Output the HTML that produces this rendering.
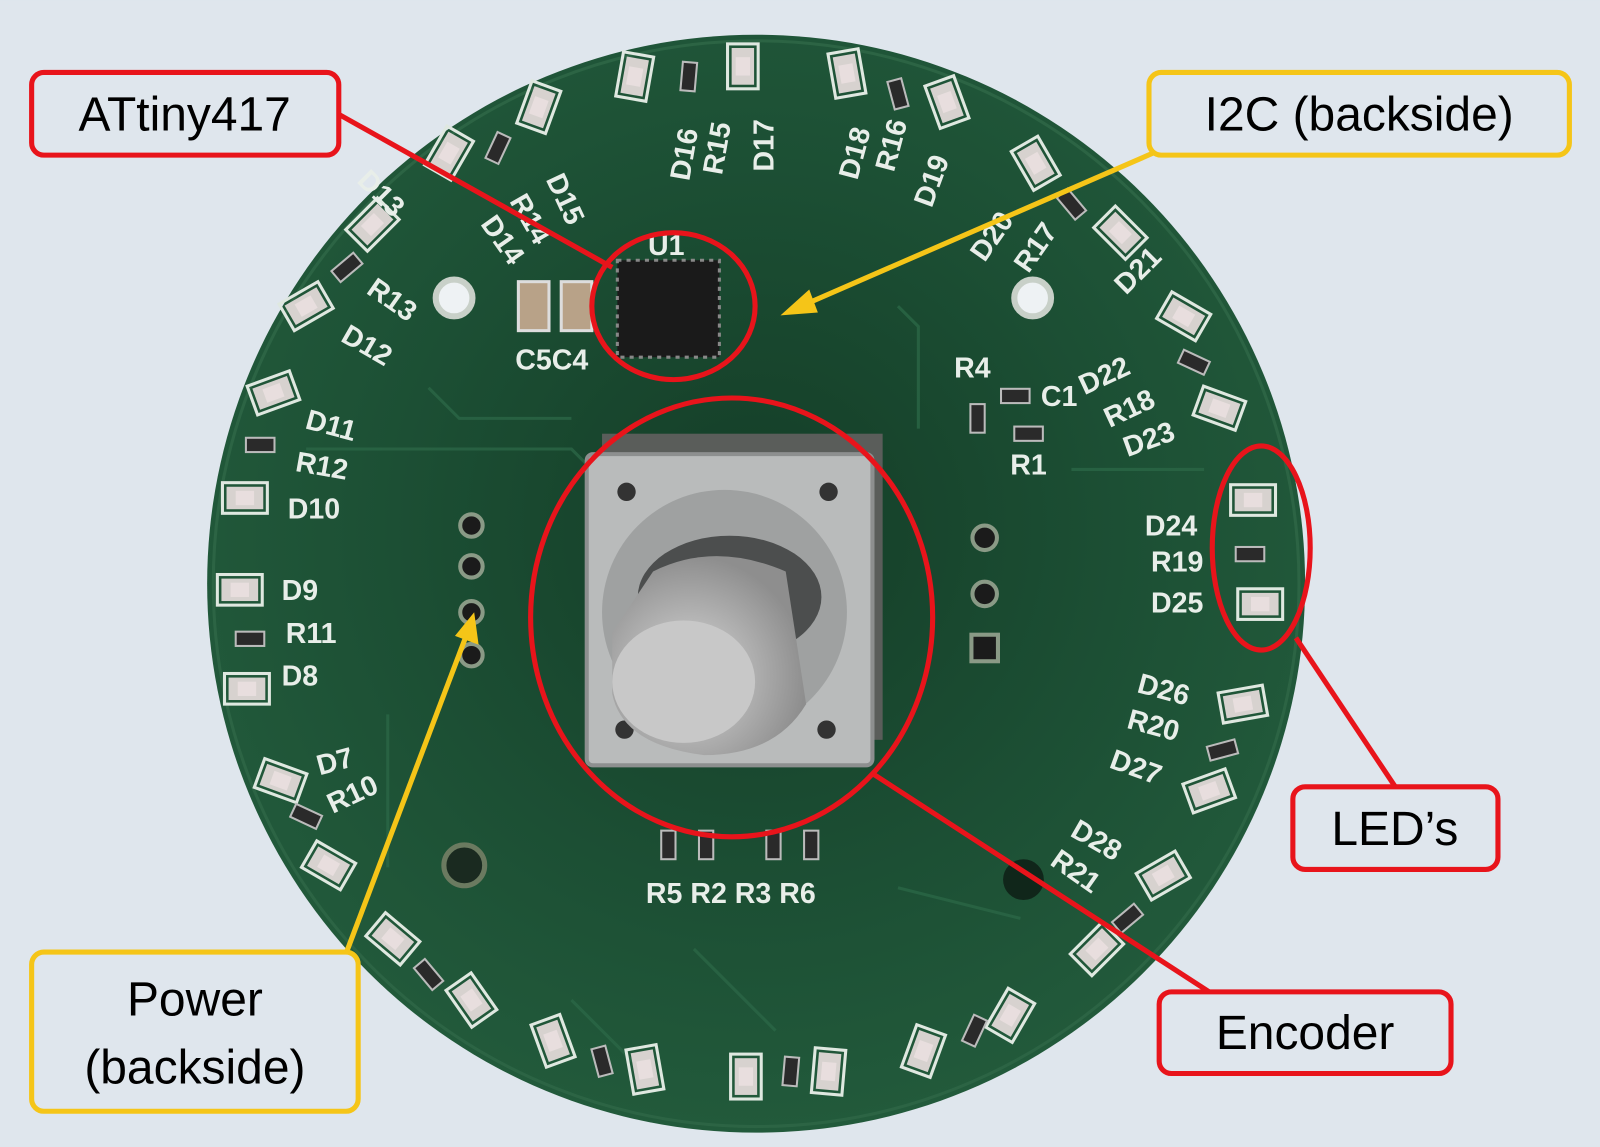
<!DOCTYPE html>
<html><head><meta charset="utf-8"><style>
html,body{margin:0;padding:0;background:#dfe6ed;}
svg{display:block}
.lbl{font-family:"Liberation Sans",sans-serif;font-size:47px;fill:#000;}
.s{font-family:"Liberation Sans",sans-serif;font-size:28px;font-weight:bold;fill:#e8eee9;}
</style></head><body>
<svg width="1600" height="1147" viewBox="0 0 1568 1124" xmlns="http://www.w3.org/2000/svg">
<defs>
<radialGradient id="pcb" cx="0.5" cy="0.45" r="0.55"><stop offset="0" stop-color="#143d27"/><stop offset="0.6" stop-color="#1c4f34"/><stop offset="1" stop-color="#225a3b"/></radialGradient>
<radialGradient id="knob" cx="0.4" cy="0.6" r="0.6"><stop offset="0" stop-color="#d8d8d8"/><stop offset="1" stop-color="#8e8e8e"/></radialGradient>
<g id="led"><rect x="-22" y="-15" width="44" height="30" fill="none" stroke="#dfe8e0" stroke-width="3"/><rect x="-18" y="-11" width="36" height="22" fill="#d7d2cf"/><rect x="-9" y="-7" width="18" height="14" fill="#e8dede"/></g>
<g id="res"><rect x="-14" y="-7" width="28" height="14" fill="#2a2a2a" stroke="#bbb" stroke-width="2"/></g>
</defs>
<rect width="1568" height="1124" fill="#dfe6ed"/>
<circle cx="741" cy="572" r="538" fill="url(#pcb)"/>
<circle cx="741" cy="572" r="532" fill="none" stroke="#2c6444" stroke-width="3"/>
<g stroke="#2b6646" stroke-width="3" fill="none" opacity="0.8">
<path d="M300 440 H560 L600 480"/><path d="M420 380 L450 410 H560"/><path d="M560 980 L620 1040"/><path d="M680 930 L760 1010"/><path d="M880 300 L900 320 V420"/><path d="M1050 460 H1180"/><path d="M880 870 L1000 900"/><path d="M380 700 V850"/>
</g>
<g>
<use href="#led" transform="translate(731,1055) rotate(90)"/>
<use href="#led" transform="translate(812,1050) rotate(95)"/>
<use href="#led" transform="translate(905,1030) rotate(110)"/>
<use href="#led" transform="translate(990,995) rotate(120)"/>
<use href="#led" transform="translate(1075,930) rotate(135)"/>
<use href="#led" transform="translate(1140,858) rotate(150)"/>
<use href="#led" transform="translate(1185,775) rotate(160)"/>
<use href="#led" transform="translate(1218,690) rotate(170)"/>
<use href="#led" transform="translate(1235,592) rotate(180)"/>
<use href="#led" transform="translate(1228,490) rotate(180)"/>
<use href="#led" transform="translate(1195,400) rotate(200)"/>
<use href="#led" transform="translate(1160,310) rotate(210)"/>
<use href="#led" transform="translate(1098,228) rotate(225)"/>
<use href="#led" transform="translate(1015,160) rotate(240)"/>
<use href="#led" transform="translate(928,100) rotate(250)"/>
<use href="#led" transform="translate(830,72) rotate(260)"/>
<use href="#led" transform="translate(728,65) rotate(270)"/>
<use href="#led" transform="translate(622,75) rotate(280)"/>
<use href="#led" transform="translate(528,105) rotate(290)"/>
<use href="#led" transform="translate(440,150) rotate(300)"/>
<use href="#led" transform="translate(365,220) rotate(315)"/>
<use href="#led" transform="translate(300,300) rotate(330)"/>
<use href="#led" transform="translate(268,385) rotate(340)"/>
<use href="#led" transform="translate(240,488)"/>
<use href="#led" transform="translate(235,578)"/>
<use href="#led" transform="translate(242,675)"/>
<use href="#led" transform="translate(275,765) rotate(20)"/>
<use href="#led" transform="translate(322,848) rotate(30)"/>
<use href="#led" transform="translate(385,920) rotate(40)"/>
<use href="#led" transform="translate(462,980) rotate(55)"/>
<use href="#led" transform="translate(542,1020) rotate(70)"/>
<use href="#led" transform="translate(632,1048) rotate(80)"/>
</g>
<g>
<use href="#res" transform="translate(1225,543)"/><use href="#res" transform="translate(1198,735) rotate(165)"/><use href="#res" transform="translate(1105,900) rotate(140)"/><use href="#res" transform="translate(955,1010) rotate(115)"/><use href="#res" transform="translate(775,1050) rotate(95)"/><use href="#res" transform="translate(590,1040) rotate(75)"/><use href="#res" transform="translate(420,955) rotate(50)"/><use href="#res" transform="translate(300,800) rotate(25)"/><use href="#res" transform="translate(245,626)"/><use href="#res" transform="translate(255,436)"/><use href="#res" transform="translate(340,262) rotate(320)"/><use href="#res" transform="translate(488,145) rotate(295)"/><use href="#res" transform="translate(675,75) rotate(275)"/><use href="#res" transform="translate(880,92) rotate(255)"/><use href="#res" transform="translate(1050,200) rotate(230)"/><use href="#res" transform="translate(1170,355) rotate(205)"/>
</g>
<circle cx="445" cy="292" r="18" fill="#eef2f4" stroke="#c8d0c8" stroke-width="6"/>
<circle cx="1012" cy="292" r="18" fill="#eef2f4" stroke="#c8d0c8" stroke-width="6"/>
<circle cx="455" cy="848" r="20" fill="#1a2a20" stroke="#6b7a60" stroke-width="5"/>
<circle cx="1003" cy="862" r="20" fill="#10261a"/>
<g fill="#1b1b1b" stroke="#8a9a86" stroke-width="4"><circle cx="462" cy="515" r="11"/><circle cx="462" cy="555" r="11"/><circle cx="462" cy="600" r="11"/><circle cx="462" cy="642" r="11"/></g>
<g fill="#1b1b1b" stroke="#8a9a86" stroke-width="4"><circle cx="965" cy="527" r="12"/><circle cx="965" cy="582" r="12"/><rect x="952" y="622" width="26" height="26"/></g>
<rect x="508" y="276" width="30" height="48" fill="#b8a288" stroke="#ddd" stroke-width="3"/>
<rect x="550" y="276" width="30" height="48" fill="#b8a288" stroke="#ddd" stroke-width="3"/>
<rect x="605" y="255" width="100" height="95" fill="#1a1a1a" stroke="#888" stroke-width="3" stroke-dasharray="4 5"/>
<use href="#res" transform="translate(995,388)"/><use href="#res" transform="translate(1008,425)"/><use href="#res" transform="translate(958,410) rotate(90)"/>
<use href="#res" transform="translate(655,828) rotate(90)"/><use href="#res" transform="translate(692,828) rotate(90)"/><use href="#res" transform="translate(758,828) rotate(90)"/><use href="#res" transform="translate(795,828) rotate(90)"/>
<rect x="590" y="425" width="275" height="300" fill="#5a5d5a"/>
<rect x="575" y="445" width="280" height="305" rx="6" fill="#b9bbbb" stroke="#8d8f8f" stroke-width="4"/>
<circle cx="614" cy="482" r="9" fill="#333"/><circle cx="812" cy="482" r="9" fill="#333"/><circle cx="612" cy="715" r="9" fill="#333"/><circle cx="810" cy="715" r="9" fill="#333"/>
<circle cx="710" cy="600" r="120" fill="#9fa1a1"/>
<ellipse cx="715" cy="585" rx="90" ry="60" fill="#4c4e4e"/>
<path d="M600 620 L640 560 Q700 530 770 560 L790 690 Q760 740 690 740 Q610 730 600 680 Z" fill="url(#knob)"/>
<ellipse cx="670" cy="668" rx="70" ry="60" fill="#c8c8c8"/>
<g class="s">
<text x="635" y="190" transform="rotate(-80 648 160)">D16</text>
<text x="668" y="185" transform="rotate(-80 680 155)">R15</text>
<text x="715" y="185" transform="rotate(-90 728 155)">D17</text>
<text x="800" y="185" transform="rotate(-75 815 155)">D18</text>
<text x="838" y="180" transform="rotate(-75 850 150)">R16</text>
<text x="875" y="210" transform="rotate(-70 890 180)">D19</text>
<text x="940" y="250" transform="rotate(-55 960 230)">D20</text>
<text x="985" y="265" transform="rotate(-55 1000 245)">R17</text>
<text x="1085" y="285" transform="rotate(-45 1100 265)">D21</text>
<text x="935" y="370">R4</text><text x="1020" y="398">C1</text><text x="990" y="465">R1</text>
<text x="1055" y="378" transform="rotate(-25 1080 365)">D22</text>
<text x="1080" y="410" transform="rotate(-25 1105 398)">R18</text>
<text x="1100" y="440" transform="rotate(-20 1125 430)">D23</text>
<text x="1122" y="525">D24</text><text x="1128" y="560">R19</text><text x="1128" y="600">D25</text>
<text x="1115" y="685" transform="rotate(15 1140 675)">D26</text><text x="1105" y="720" transform="rotate(15 1130 710)">R20</text><text x="1088" y="760" transform="rotate(20 1110 750)">D27</text>
<text x="1050" y="830" transform="rotate(30 1070 820)">D28</text><text x="1030" y="860" transform="rotate(35 1050 850)">R21</text>
<text x="350" y="195" transform="rotate(45 370 185)">D13</text><text x="360" y="300" transform="rotate(35 380 290)">R13</text><text x="335" y="345" transform="rotate(30 355 335)">D12</text>
<text x="300" y="425" transform="rotate(15 320 415)">D11</text><text x="290" y="465" transform="rotate(10 310 455)">R12</text><text x="282" y="508">D10</text>
<text x="276" y="588">D9</text><text x="280" y="630">R11</text><text x="276" y="672">D8</text>
<text x="310" y="755" transform="rotate(-15 330 745)">D7</text><text x="320" y="790" transform="rotate(-25 340 780)">R10</text>
<text x="505" y="362">C5C4</text><text x="635" y="250">U1</text>
<text x="633" y="885">R5 R2 R3 R6</text>
<text x="470" y="240" transform="rotate(55 490 230)">D14</text><text x="500" y="215" transform="rotate(60 515 205)">R14</text><text x="535" y="195" transform="rotate(65 550 185)">D15</text>
</g>
<g stroke="#e8141b" stroke-width="5" fill="none">
<line x1="332" y1="112" x2="600" y2="262"/>
<line x1="1270" y1="625" x2="1368" y2="772"/>
<line x1="855" y1="758" x2="1185" y2="972"/>
<ellipse cx="660" cy="300" rx="80" ry="72"/>
<ellipse cx="717" cy="605" rx="197" ry="215"/>
<ellipse cx="1236" cy="537" rx="48" ry="100"/>
</g>
<g stroke="#f5c518" stroke-width="5" fill="#f5c518">
<line x1="1130" y1="150" x2="785" y2="300"/><polygon points="772,306 792,288 798,304"/>
<line x1="340" y1="932" x2="458" y2="620"/><polygon points="463,606 466,628 450,622"/>
</g>
<g stroke-width="5">
<rect x="31" y="71" width="301" height="81" rx="12" fill="#dfe6ed" stroke="#e8141b"/>
<rect x="1126" y="71" width="412" height="81" rx="12" fill="#dfe6ed" stroke="#f5c518"/>
<rect x="1267" y="771" width="201" height="81" rx="12" fill="#dfe6ed" stroke="#e8141b"/>
<rect x="1136" y="972" width="286" height="80" rx="12" fill="#dfe6ed" stroke="#e8141b"/>
<rect x="31" y="933" width="320" height="156" rx="12" fill="#dfe6ed" stroke="#f5c518"/>
</g>
<text class="lbl" x="181" y="128" text-anchor="middle">ATtiny417</text>
<text class="lbl" x="1332" y="128" text-anchor="middle">I2C (backside)</text>
<text class="lbl" x="1367" y="828" text-anchor="middle">LED’s</text>
<text class="lbl" x="1279" y="1028" text-anchor="middle">Encoder</text>
<text class="lbl" x="191" y="995" text-anchor="middle">Power</text>
<text class="lbl" x="191" y="1062" text-anchor="middle">(backside)</text>
</svg>
</body></html>
